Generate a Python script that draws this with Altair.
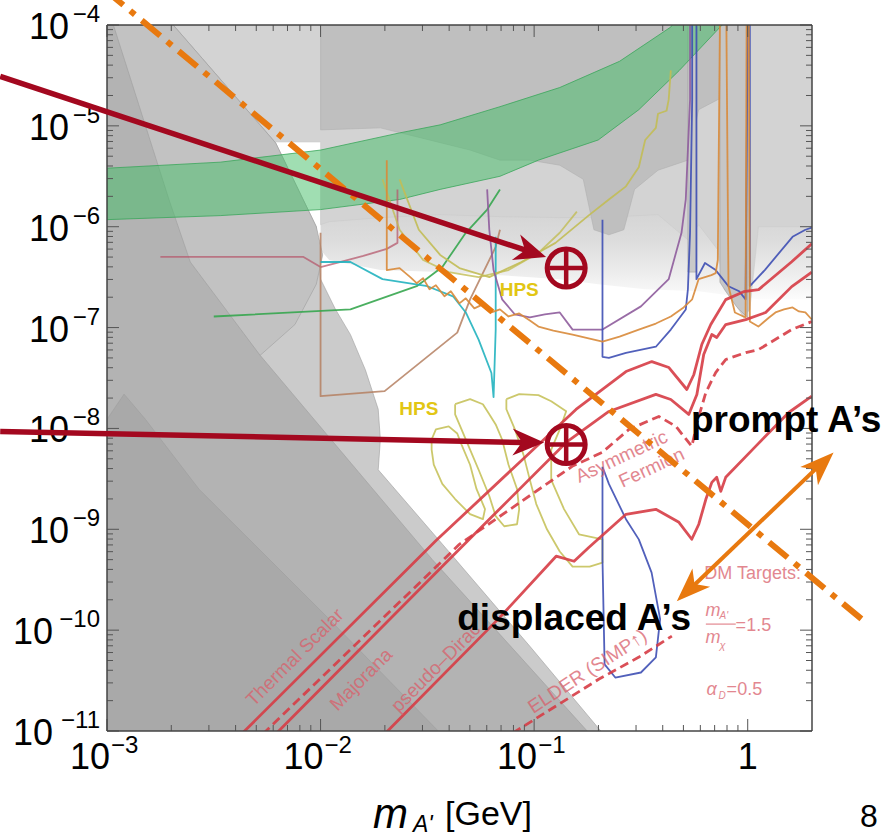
import altair as alt
import pandas as pd

W, H = 705, 706
XS = alt.Scale(type="log", domain=[1e-3, 2])
YS = alt.Scale(type="log", domain=[1e-11, 1e-4])
FONT = "Liberation Sans"

# ---------------- data: points are (log10 m_A' [GeV], log10 epsilon^2) ----------------
# grey excluded regions
UPPER_FRINGE = [(-2.00, -5.80), (0.30, -5.80), (0.30, -6.72), (0.05, -6.72), (-0.23, -6.64), (-0.48, -6.62),
                (-0.70, -6.57), (-0.88, -6.52), (-1.16, -6.48), (-1.44, -6.45), (-1.72, -6.43), (-1.96, -6.33),
                (-2.00, -6.23)]
UPPER_LIGHT = [(-3, -4), (0.30, -4), (0.30, -6.00), (0.05, -6.00), (0.01, -6.82), (-0.02, -6.90), (-0.07, -6.72),
               (-0.11, -6.62), (-0.14, -6.23), (-0.23, -5.98), (-0.28, -6.13), (-0.42, -5.88), (-0.70, -5.91),
               (-0.88, -5.91), (-1.16, -5.90), (-1.44, -5.88), (-1.72, -5.91), (-1.96, -5.95), (-2.00, -5.98),
               (-2.00, -5.16), (-3, -5.16)]
UPPER_DARK = [(-2.00, -4.00), (-0.02, -4.00), (-0.02, -4.64), (-0.14, -4.74), (-0.23, -4.84), (-0.28, -5.34),
              (-0.42, -5.44), (-0.53, -5.63), (-0.58, -6.03), (-0.65, -6.08), (-0.72, -6.03), (-0.77, -5.53),
              (-0.88, -5.39), (-1.02, -5.34), (-1.16, -5.34), (-1.30, -5.24), (-1.49, -5.14), (-1.72, -5.02),
              (-2.00, -5.04)]
STRIP_PHI = [(-0.13, -4.0), (0.00, -4.0), (0.00, -6.90), (-0.05, -6.80), (-0.10, -6.65), (-0.13, -6.55)]
STRIP_RHO = [(-0.28, -4.0), (-0.24, -4.0), (-0.24, -6.45), (-0.28, -6.45)]
DUMP_ENVELOPE = [(-3, -4), (-2.69, -4), (-2.21, -5.17), (-2.02, -6.00), (-2.00, -6.52), (-1.93, -6.82),
                 (-1.86, -7.07), (-1.79, -7.42), (-1.73, -7.81), (-1.72, -8.11), (-1.73, -8.41), (-1.40, -9.22),
                 (-1.02, -10.16), (-0.68, -11.02), (-3, -11.02)]
DUMP_TONGUE = [(-3, -4), (-2.69, -4), (-2.21, -5.17), (-2.02, -6.00), (-1.99, -6.28), (-2.02, -6.57),
               (-2.12, -6.97), (-2.28, -7.27), (-2.47, -7.40), (-3, -7.51)]
DIAG_BAND = [(-3, -4), (-2.97, -4), (-2.71, -5.73), (-2.61, -6.35), (-2.285, -7.27), (-1.477, -9.30),
             (-0.743, -11.02), (-3, -11.02)]
LOW_BAND = [(-3, -7.91), (-2.92, -7.66), (-2.82, -7.91), (-2.57, -8.60), (-1.96, -9.89), (-1.44, -11.02),
            (-3, -11.02)]

# green (g-2) band
GREEN_BAND = [(-3, -5.42), (-2.47, -5.36), (-2.00, -5.24), (-1.63, -5.07), (-1.44, -4.99), (-1.16, -4.81),
              (-0.88, -4.62), (-0.60, -4.36), (-0.36, -4.02), (-0.29, -3.8), (-0.02, -3.8), (-0.12, -4.00),
              (-0.32, -4.45), (-0.51, -4.84), (-0.70, -5.14), (-0.98, -5.34), (-1.16, -5.50), (-1.44, -5.63),
              (-1.63, -5.73), (-2.00, -5.83), (-2.47, -5.89), (-3, -5.93)]

# coloured experiment curves
ROSE = [(-2.75, -6.30), (-2.08, -6.30), (-2.00, -6.40), (-1.91, -6.35), (-1.80, -6.29), (-1.69, -6.22),
        (-1.64, -6.16), (-1.64, -5.63)]
CYAN = [(-2.00, -6.35), (-1.86, -6.35), (-1.71, -6.52), (-1.50, -6.59), (-1.38, -6.69), (-1.32, -6.85),
        (-1.26, -7.12), (-1.20, -7.45), (-1.19, -7.69), (-1.18, -7.02), (-1.18, -6.10)]
GREEN_LINE = [(-2.50, -6.89), (-1.86, -6.82), (-1.55, -6.59), (-1.43, -6.40), (-1.32, -6.06), (-1.22, -5.83),
              (-1.16, -5.63)]
OLIVE_A1 = [(-1.63, -5.53), (-1.54, -6.03), (-1.44, -6.28), (-1.35, -6.41), (-1.21, -6.50), (-1.06, -6.35),
            (-0.90, -6.16), (-0.74, -5.88), (-0.65, -5.73), (-0.57, -5.60), (-0.51, -5.41), (-0.48, -5.14),
            (-0.43, -5.02), (-0.42, -4.88), (-0.38, -4.85), (-0.37, -4.74), (-0.36, -4.45)]
OLIVE_APEX = [(-1.71, -5.53), (-1.63, -6.03), (-1.52, -6.33), (-1.40, -6.45), (-1.26, -6.50), (-1.12, -6.43),
              (-0.98, -6.26), (-0.88, -6.06), (-0.80, -5.85)]
HPS_1 = [(-1.48, -8.11), (-1.46, -8.01), (-1.40, -7.98), (-1.36, -8.05), (-1.34, -8.16), (-1.30, -8.36),
         (-1.27, -8.60), (-1.23, -8.80), (-1.24, -8.90), (-1.30, -8.85), (-1.37, -8.70), (-1.43, -8.55),
         (-1.47, -8.36), (-1.48, -8.21), (-1.48, -8.11)]
HPS_2 = [(-1.37, -7.76), (-1.30, -7.71), (-1.24, -7.76), (-1.21, -7.86), (-1.18, -7.96), (-1.15, -8.11),
         (-1.12, -8.36), (-1.08, -8.60), (-1.07, -8.80), (-1.08, -8.95), (-1.14, -8.97), (-1.18, -8.87),
         (-1.21, -8.67), (-1.26, -8.41), (-1.30, -8.21), (-1.34, -8.01), (-1.37, -7.86), (-1.37, -7.76)]
HPS_3 = [(-1.13, -7.71), (-1.07, -7.66), (-0.98, -7.67), (-0.92, -7.73), (-0.85, -7.83), (-0.88, -8.01),
         (-0.92, -8.21), (-0.92, -8.51), (-0.86, -8.80), (-0.79, -9.05), (-0.68, -9.10), (-0.68, -9.33),
         (-0.74, -9.37), (-0.82, -9.37), (-0.88, -9.22), (-0.94, -9.00), (-0.99, -8.75), (-1.02, -8.51),
         (-1.05, -8.26), (-1.09, -8.01), (-1.13, -7.81), (-1.13, -7.71)]
PURPLE = [(-1.22, -5.63), (-1.21, -6.03), (-1.19, -6.43), (-1.15, -6.72), (-1.09, -6.87), (-1.02, -6.90),
          (-0.95, -6.87), (-0.88, -6.85), (-0.82, -7.02), (-0.68, -7.02), (-0.50, -6.79), (-0.37, -6.52),
          (-0.31, -6.06), (-0.29, -5.73), (-0.27, -4.74), (-0.27, -3.95)]
BLUE_UPPER = [(-0.68, -5.93), (-0.68, -7.29), (-0.65, -7.30), (-0.57, -7.25), (-0.43, -7.19), (-0.36, -7.02),
              (-0.29, -6.82), (-0.28, -6.62), (-0.27, -6.06), (-0.26, -4.74), (-0.26, -3.95), (-0.24, -3.95),
              (-0.24, -6.52), (-0.20, -6.36), (-0.15, -6.43), (-0.09, -6.59), (-0.04, -6.64), (-0.01, -6.72),
              (0.00, -3.95), (0.01, -3.95), (0.01, -6.59), (0.08, -6.43), (0.21, -6.10), (0.27, -6.03),
              (0.30, -6.01)]
BLUE_LOOP = [(-0.68, -8.38), (-0.68, -9.30), (-0.67, -10.34), (-0.62, -10.47), (-0.50, -10.42), (-0.43, -10.27),
             (-0.41, -9.89), (-0.45, -9.43), (-0.51, -9.10), (-0.57, -8.90), (-0.65, -8.55), (-0.68, -8.38)]
ORANGE = [(-1.69, -5.34), (-1.69, -6.43), (-1.63, -6.41), (-1.58, -6.50), (-1.55, -6.56), (-1.52, -6.51),
          (-1.49, -6.62), (-1.46, -6.58), (-1.42, -6.69), (-1.39, -6.64), (-1.35, -6.76), (-1.32, -6.71),
          (-1.28, -6.81), (-1.24, -6.77), (-1.20, -6.85), (-1.16, -6.82), (-1.12, -6.89), (-1.07, -6.86),
          (-1.02, -6.93), (-0.98, -6.99), (-0.91, -7.03), (-0.82, -7.07), (-0.74, -7.11), (-0.68, -7.14),
          (-0.60, -7.09), (-0.51, -7.02), (-0.43, -6.96), (-0.36, -6.89), (-0.30, -6.80), (-0.26, -6.72),
          (-0.23, -6.52), (-0.17, -6.48), (-0.15, -6.46), (-0.14, -6.33), (-0.13, -3.95), (-0.10, -3.95),
          (-0.09, -6.59), (-0.06, -6.85), (-0.01, -6.90), (-0.005, -3.95), (0.005, -3.95), (0.01, -6.94),
          (0.05, -6.99), (0.10, -6.90), (0.13, -6.85), (0.17, -6.82), (0.21, -6.80), (0.24, -6.84),
          (0.27, -6.85), (0.30, -6.92)]
BROWN = [(-2.00, -6.06), (-2.00, -7.68), (-1.70, -7.63), (-1.36, -7.05), (-1.30, -6.72), (-1.18, -6.20),
         (-1.16, -6.03)]

# thermal dark-matter targets
SCALAR = [(-2.37, -11.03), (-1.458, -9.109), (-0.804, -7.812), (-0.570, -7.436), (-0.449, -7.337),
          (-0.369, -7.396), (-0.285, -7.614), (-0.252, -7.465), (-0.215, -7.168), (-0.173, -6.970),
          (-0.103, -6.723), (-0.019, -6.644), (0.051, -6.624), (0.206, -6.347), (0.30, -6.17)]
MAJORANA = [(-2.21, -11.03), (-1.397, -9.297), (-0.850, -8.139), (-0.650, -7.832), (-0.430, -7.663),
            (-0.360, -7.713), (-0.276, -7.861), (-0.238, -7.663), (-0.206, -7.267), (-0.168, -7.069),
            (-0.145, -7.099), (-0.103, -6.970), (-0.009, -6.921), (0.084, -6.851), (0.206, -6.594),
            (0.30, -6.45)]
ASYM = [(-2.27, -11.03), (-1.350, -9.149), (-0.822, -8.376), (-0.682, -8.238), (-0.556, -8.010),
        (-0.416, -7.881), (-0.336, -7.980), (-0.262, -8.178), (-0.229, -7.881), (-0.196, -7.644),
        (-0.150, -7.446), (-0.103, -7.317), (-0.009, -7.248), (0.051, -7.218), (0.206, -7.020), (0.30, -6.94)]
PSEUDO = [(-1.70, -11.03), (-1.164, -9.881), (-0.897, -9.267), (-0.813, -9.317), (-0.743, -9.178),
          (-0.570, -8.851), (-0.430, -8.802), (-0.322, -8.931), (-0.262, -9.099), (-0.229, -8.950),
          (-0.196, -8.703), (-0.168, -8.535), (-0.145, -8.485), (-0.126, -8.624), (-0.103, -8.485),
          (0.037, -8.178), (0.192, -7.842), (0.30, -7.68)]
ELDER = [(-1.10, -11.02), (-0.883, -10.733), (-0.696, -10.485), (-0.509, -10.267), (-0.355, -10.059)]

# labels of the thermal targets: (log m, log eps2, text, angle)
TARGET_LABELS = [(-2.12, -10.27, "Thermal Scalar", 315), (-1.81, -10.49, "Majorana", 315),
                 (-1.46, -10.37, "pseudo\u2013Dirac", 315), (-0.59, -8.28, "Asymmetric", 335),
                 (-0.45, -8.39, "Fermion", 335), (-0.75, -10.41, "ELDER (SIMP\u2191)", 327)]
HPS_LABELS = [(-1.54, -7.81), (-1.07, -6.63)]
DM_ANCHOR = (0.023, -9.446)
FRACTION_BAR = (-0.196, -0.056, -9.94)

# annotations
ARROW_STARTS = [(-3.50, -4.51), (-3.50, -8.03)]
ARROW_SHAFT_ENDS = [(-1.033, -6.238), (-1.047, -8.14)]
ARROW_TIPS = [(-0.944, -6.30), (-0.953, -8.14)]
ARROW_ANGLES = [18, 1]
TARGET_POINTS = [(-0.85, -6.41), (-0.85, -8.16)]
DASHDOT = [(-3.01, -3.65), (0.533, -9.89)]
DOUBLE_SHAFT = [(-0.266, -9.584), (0.336, -8.366)]
DOUBLE_TIPS = [(0.402, -8.238, 316), (-0.332, -9.713, 136)]
PROMPT_AT = (-0.266, -8.040)
DISPLACED_AT = (-1.360, -10.0)

# axis ticks
X_MAJOR = [1e-3, 1e-2, 1e-1, 1.0]
X_MINOR = [k * 10.0 ** d for d in (-3, -2, -1) for k in range(2, 10)]
Y_MAJOR = [10.0 ** e for e in range(-11, -3)]
Y_MINOR = [k * 10.0 ** e for e in range(-11, -4) for k in range(2, 10)]
X_LABEL_VALS = [1e-3, 1e-2, 1e-1]
X_LABEL_EXP = ["\u22123", "\u22122", "\u22121"]
Y_LABEL_VALS_1 = [1e-4, 1e-5, 1e-6, 1e-7, 1e-8, 1e-9]
Y_LABEL_EXP_1 = ["\u22124", "\u22125", "\u22126", "\u22127", "\u22128", "\u22129"]
Y_LABEL_VALS_2 = [1e-10, 1e-11]
Y_LABEL_EXP_2 = ["\u221210", "\u221211"]

# ---------------- helpers ----------------
def frame(pts):
    return pd.DataFrame({"x": [10 ** p[0] for p in pts], "y": [10 ** p[1] for p in pts],
                         "i": list(range(len(pts)))})


def X():
    return alt.X("x:Q", scale=XS, axis=None)


def Y():
    return alt.Y("y:Q", scale=YS, axis=None)


def region(pts, fill, stroke="#9d9d9d", sw=0.6, fo=1.0):
    pts = list(pts) + [pts[0]]
    return alt.Chart(frame(pts)).mark_line(fill=fill, fillOpacity=fo, stroke=stroke, strokeWidth=sw,
                                           clip=True).encode(x=X(), y=Y(), order="i:Q")


def curve(pts, color, sw=1.8, dash=None, op=0.9, clip=True, cap="butt"):
    kw = dict(color=color, strokeWidth=sw, opacity=op, clip=clip, strokeJoin="round", strokeCap=cap)
    if dash:
        kw["strokeDash"] = dash
    return alt.Chart(frame(pts)).mark_line(**kw).encode(x=X(), y=Y(), order="i:Q")


def text_at(lx, ly, txt, **kw):
    d = pd.DataFrame({"x": [10 ** lx], "y": [10 ** ly], "t": [txt]})
    return alt.Chart(d).mark_text(font=FONT, **kw).encode(x=X(), y=Y(), text="t:N")


def text_px(px, py, txt, **kw):
    return alt.Chart(pd.DataFrame({"a": [0]})).mark_text(font=FONT, **kw).encode(
        x=alt.value(px), y=alt.value(py), text=alt.value(txt))


HEAD = "M0,0L-2,-0.85L-1.4,0L-2,0.85Z"
HEAD2 = "M0,0L-2,-0.75L-1.45,0L-2,0.75Z"

fringe_fill = alt.LinearGradient(
    gradient="linear", x1=0, y1=0, x2=0, y2=1,
    stops=[alt.GradientStop(color="#d3d3d3", offset=0), alt.GradientStop(color="#dcdcdc", offset=0.35),
           alt.GradientStop(color="#ececec", offset=0.7), alt.GradientStop(color="#fcfcfc", offset=1)])

layers = []
# grey regions
layers.append(region(UPPER_FRINGE, fringe_fill, stroke="#ffffff", sw=0))
layers.append(region(UPPER_LIGHT, "#d3d3d3", stroke="#cbcbcb"))
layers.append(region(UPPER_DARK, "#bfbfbf", stroke="#b0b0b0"))
layers.append(region(STRIP_PHI, "#c6c6c6"))
layers.append(region(STRIP_RHO, "#c9c9c9"))
layers.append(region(DUMP_ENVELOPE, "#cbcbcb"))
layers.append(region(DUMP_TONGUE, "#c2c2c2"))
layers.append(region(DIAG_BAND, "#b3b3b3"))
layers.append(region(LOW_BAND, "#a9a9a9"))
layers.append(region(GREEN_BAND, "#42be66", stroke="#3aa65a", sw=0.8, fo=0.5))

# experiment curves
layers.append(curve(ROSE, "#b55a6e", op=0.75))
layers.append(curve(BROWN, "#b58062", op=0.85))
layers.append(curve(GREEN_LINE, "#36a64f"))
layers.append(curve(CYAN, "#22b3bf"))
layers.append(curve(OLIVE_APEX, "#c2bd55", op=0.8))
layers.append(curve(OLIVE_A1, "#c2bd55", op=0.9))
for c in (HPS_1, HPS_2, HPS_3):
    layers.append(curve(c, "#c6c25c", sw=1.8))
layers.append(curve(PURPLE, "#8e5c9c"))
layers.append(curve(BLUE_UPPER, "#3e4fb4"))
layers.append(curve(BLUE_LOOP, "#3e4fb4"))
layers.append(curve(ORANGE, "#d8893a"))

# thermal targets
RED = "#d63c45"
layers.append(curve(SCALAR, RED, sw=2.8, op=0.9))
layers.append(curve(MAJORANA, RED, sw=2.8, op=0.9))
layers.append(curve(PSEUDO, RED, sw=2.8, op=0.9))
layers.append(curve(ASYM, RED, sw=2.8, dash=[9, 5], op=0.9))
layers.append(curve(ELDER, RED, sw=2.8, dash=[9, 5], op=0.9))
LBL = "#d9606b"
for lx, ly, t, a in TARGET_LABELS:
    layers.append(text_at(lx, ly, t, fontSize=19, angle=a, color=LBL, opacity=0.75,
                          align="center", baseline="middle"))
for lx, ly in HPS_LABELS:
    layers.append(text_at(lx, ly, "HPS", fontSize=19, fontWeight="bold", color="#e2c614",
                          align="center", baseline="middle"))

ax, ay = DM_ANCHOR
layers.append(text_at(ax, ay, "DM Targets:", fontSize=18, color=LBL, opacity=0.75, align="center",
                      baseline="middle"))
for t, dx, dy, fs, it in [("m", -47, 42, 18, True), ("A'", -33, 45, 10, True), ("=1.5", -17, 57, 18, False),
                          ("m", -47, 69, 18, True), ("\u03c7", -33, 75, 11, True), ("\u03b1", -46, 121, 18, True),
                          ("D", -34, 125, 10, True), ("=0.5", -26, 121, 18, False)]:
    kw = dict(fontSize=fs, color=LBL, opacity=0.75, align="left", baseline="alphabetic", dx=dx, dy=dy)
    if it:
        kw["fontStyle"] = "italic"
    layers.append(text_at(ax, ay, t, **kw))
bx0, bx1, by = FRACTION_BAR
layers.append(alt.Chart(pd.DataFrame({"x": [10 ** bx0], "x2": [10 ** bx1], "y": [10 ** by]}))
              .mark_rule(color=LBL, opacity=0.75, strokeWidth=1.2)
              .encode(x=X(), x2="x2:Q", y=Y()))

# ticks (inward) and frame
TK = "#555555"
for vals, L in ((X_MAJOR, 12), (X_MINOR, 6)):
    d = pd.DataFrame({"x": vals})
    layers.append(alt.Chart(d).mark_rule(color=TK, strokeWidth=1).encode(x=X(), y=alt.value(H), y2=alt.value(H - L)))
    layers.append(alt.Chart(d).mark_rule(color=TK, strokeWidth=1).encode(x=X(), y=alt.value(0), y2=alt.value(L)))
for vals, L in ((Y_MAJOR, 12), (Y_MINOR, 6)):
    d = pd.DataFrame({"y": vals})
    layers.append(alt.Chart(d).mark_rule(color=TK, strokeWidth=1).encode(y=Y(), x=alt.value(0), x2=alt.value(L)))
    layers.append(alt.Chart(d).mark_rule(color=TK, strokeWidth=1).encode(y=Y(), x=alt.value(W), x2=alt.value(W - L)))
one = pd.DataFrame({"a": [0]})
FR = "#444444"
layers.append(alt.Chart(one).mark_rule(color=FR, strokeWidth=1.5).encode(x=alt.value(0), x2=alt.value(W), y=alt.value(0)))
layers.append(alt.Chart(one).mark_rule(color=FR, strokeWidth=1.5).encode(x=alt.value(0), x2=alt.value(W), y=alt.value(H)))
layers.append(alt.Chart(one).mark_rule(color=FR, strokeWidth=1.5).encode(y=alt.value(0), y2=alt.value(H), x=alt.value(0)))
layers.append(alt.Chart(one).mark_rule(color=FR, strokeWidth=1.5).encode(y=alt.value(0), y2=alt.value(H), x=alt.value(W)))

# tick labels
dx_lab = pd.DataFrame({"x": X_LABEL_VALS, "e": X_LABEL_EXP})
layers.append(alt.Chart(dx_lab).mark_text(font=FONT, fontSize=36, align="right", baseline="middle", dx=3)
              .encode(x=X(), y=alt.value(H + 27), text=alt.value("10")))
layers.append(alt.Chart(dx_lab).mark_text(font=FONT, fontSize=24, align="left", baseline="middle", dx=4)
              .encode(x=X(), y=alt.value(H + 15), text="e:N"))
layers.append(alt.Chart(pd.DataFrame({"x": [1.0]})).mark_text(font=FONT, fontSize=36, align="center",
                                                            baseline="middle")
              .encode(x=X(), y=alt.value(H + 27), text=alt.value("1")))
for vals, exps, xten in ((Y_LABEL_VALS_1, Y_LABEL_EXP_1, -38), (Y_LABEL_VALS_2, Y_LABEL_EXP_2, -54)):
    d = pd.DataFrame({"y": vals, "e": exps})
    layers.append(alt.Chart(d).mark_text(font=FONT, fontSize=36, align="right", baseline="middle", dy=3)
                  .encode(y=Y(), x=alt.value(xten), text=alt.value("10")))
    layers.append(alt.Chart(d).mark_text(font=FONT, fontSize=24, align="right", baseline="middle", dy=-10)
                  .encode(y=Y(), x=alt.value(-7), text="e:N"))

# axis title
layers.append(text_px(266, 803, "m", fontSize=42, fontStyle="italic", align="left", baseline="alphabetic"))
layers.append(text_px(306, 807, "A'", fontSize=23, fontStyle="italic", align="left", baseline="alphabetic"))
layers.append(text_px(338, 800, "[GeV]", fontSize=34, align="left", baseline="alphabetic"))
layers.append(text_px(762, 802, "8", fontSize=32, align="center", baseline="alphabetic"))

# annotations
ORG = "#e8790f"
layers.append(curve(DASHDOT, ORG, sw=6, dash=[24, 9, 6, 9], op=1, clip=False))
layers.append(curve(DOUBLE_SHAFT, ORG, sw=4, op=1, clip=False))
for lx, ly, ang in DOUBLE_TIPS:
    layers.append(alt.Chart(frame([(lx, ly)])).mark_point(shape=HEAD2, size=1156, filled=True, color=ORG,
                                                          opacity=1, angle=ang).encode(x=X(), y=Y()))
layers.append(text_at(PROMPT_AT[0], PROMPT_AT[1], "prompt A\u2019s", fontSize=37, fontWeight="bold",
                      align="left", baseline="alphabetic", color="black"))
layers.append(text_at(DISPLACED_AT[0], DISPLACED_AT[1], "displaced A\u2019s", fontSize=37, fontWeight="bold",
                      align="left", baseline="alphabetic", color="black"))
DR = "#a3081f"
for s, e, tip, ang in zip(ARROW_STARTS, ARROW_SHAFT_ENDS, ARROW_TIPS, ARROW_ANGLES):
    layers.append(curve([s, e], DR, sw=5.5, op=1, clip=False))
    layers.append(alt.Chart(frame([tip])).mark_point(shape=HEAD, size=1000, filled=True, color=DR, opacity=1,
                                                     angle=ang).encode(x=X(), y=Y()))
layers.append(alt.Chart(frame(TARGET_POINTS)).mark_point(shape="circle", size=1444, filled=False, color=DR,
                                                         strokeWidth=5, opacity=1).encode(x=X(), y=Y()))
layers.append(alt.Chart(frame(TARGET_POINTS)).mark_point(shape="M-1,0H1M0,-1V1", size=1156, filled=False,
                                                         color=DR, strokeWidth=4.5, opacity=1).encode(x=X(), y=Y()))

chart = alt.layer(*layers).properties(
    width=W, height=H,
    padding={"left": 107, "top": 25, "right": 80, "bottom": 107},
    autosize=alt.AutoSizeParams(type="none"),
    background="white",
).configure_view(strokeWidth=0)

chart.save("out.html", embed_options={"renderer": "svg", "actions": False})
